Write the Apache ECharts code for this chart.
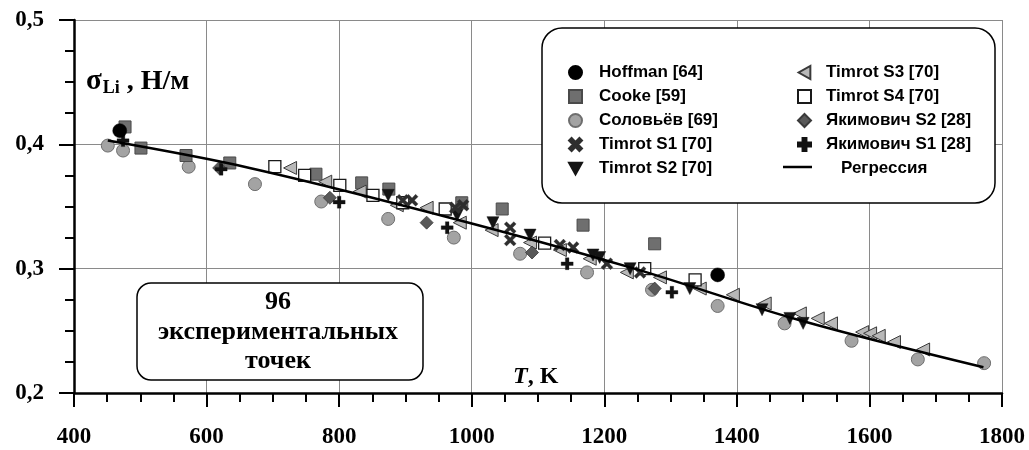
<!DOCTYPE html>
<html>
<head>
<meta charset="utf-8">
<script src="https://cdn.jsdelivr.net/npm/echarts@6/dist/echarts.min.js"></script>
<style>
  html, body { margin: 0; padding: 0; background: #ffffff; }
  #chart { width: 1029px; height: 450px; }
</style>
</head>
<body>
<div id="chart"></div>
<script>
// Surface tension of liquid lithium, σ (N/m) versus temperature T (K)
const xTicks = { min: 400, max: 1800, step: 200, minorSplit: 4 };
const yTicks = { min: 0.2, max: 0.5, step: 0.1, minorSplit: 4 };

const hoffman = [[469, 0.411], [1371, 0.295]];
const cooke = [[477, 0.414], [501, 0.397], [569, 0.391], [635, 0.385], [765, 0.376], [834, 0.369],
  [875, 0.364], [985, 0.353], [1046, 0.348], [1168, 0.335], [1276, 0.320]];
const soloviev = [[451, 0.399], [474, 0.395], [573, 0.382], [673, 0.368], [773, 0.354], [874, 0.340],
  [973, 0.325], [1073, 0.312], [1174, 0.297], [1272, 0.283], [1371, 0.270], [1472, 0.256],
  [1573, 0.242], [1673, 0.227], [1773, 0.224]];
const timrotS1 = [[896, 0.355], [910, 0.355], [975, 0.349], [987, 0.351], [1058, 0.333], [1058, 0.323],
  [1133, 0.319], [1153, 0.317], [1204, 0.304], [1254, 0.297]];
const timrotS2 = [[874, 0.359], [978, 0.343], [1032, 0.337], [1088, 0.327], [1183, 0.311], [1193, 0.309],
  [1239, 0.300], [1329, 0.284], [1438, 0.267], [1480, 0.260], [1500, 0.256]];
const timrotS3 = [[726, 0.381], [779, 0.370], [831, 0.362], [887, 0.351], [932, 0.349], [982, 0.337],
  [1030, 0.331], [1088, 0.321], [1133, 0.315], [1178, 0.308], [1234, 0.297], [1284, 0.293],
  [1344, 0.284], [1394, 0.279], [1442, 0.272], [1495, 0.264], [1522, 0.260], [1542, 0.256],
  [1589, 0.249], [1601, 0.248], [1614, 0.246], [1637, 0.241], [1681, 0.235]];
const timrotS4 = [[703, 0.382], [748, 0.375], [801, 0.367], [851, 0.359], [896, 0.353], [960, 0.348],
  [1110, 0.3205], [1261, 0.300], [1337, 0.291]];
const yakimovichS2 = [[619, 0.381], [786, 0.357], [932, 0.337], [1091, 0.313], [1276, 0.284]];
const yakimovichS1 = [[474, 0.403], [622, 0.380], [800, 0.3535], [963, 0.333], [1144, 0.304], [1302, 0.281]];
const regression = [[451, 0.403], [665, 0.381], [967, 0.341], [1239, 0.301], [1495, 0.2585], [1772, 0.2207]];

const SERIF = "'Liberation Serif','Times New Roman',serif";
const SANS = "'Liberation Sans',Arial,sans-serif";

// marker shapes
const SYM_X = 'path://M2,0L5,3L8,0L10,2L7,5L10,8L8,10L5,7L2,10L0,8L3,5L0,2Z';
const SYM_PLUS = 'path://M3.5,0H6.5V3.5H10V6.5H6.5V10H3.5V6.5H0V3.5H3.5Z';
const SYM_DOWN = 'path://M0,0H10L5,9Z';
const SYM_LEFT = 'path://M9,0V10L0,5Z';

function scatter(name, data, symbol, size, fill, stroke, bw) {
  return {
    name, type: 'scatter', data, symbol, symbolSize: size, z: 3,
    itemStyle: { color: fill, borderColor: stroke, borderWidth: bw, opacity: 1 },
    emphasis: { disabled: true }
  };
}

const series = [
  scatter('Соловьёв [69]', soloviev, 'circle', 13, '#a3a3a3', '#6e6e6e', 1),
  scatter('Cooke [59]', cooke, 'rect', 12, '#6f6f6f', '#4a4a4a', 1),
  scatter('Timrot S3 [70]', timrotS3, SYM_LEFT, 13, '#b8b8b8', '#3a3a3a', 1),
  scatter('Timrot S4 [70]', timrotS4, 'rect', 12, '#ffffff', '#1a1a1a', 1.3),
  scatter('Якимович S2 [28]', yakimovichS2, 'diamond', 13, '#595959', '#3a3a3a', 0.8),
  scatter('Timrot S2 [70]', timrotS2, SYM_DOWN, 12, '#141414', '#141414', 0.5),
  scatter('Timrot S1 [70]', timrotS1, SYM_X, 12, '#2e2e2e', '#2e2e2e', 0.3),
  scatter('Якимович S1 [28]', yakimovichS1, SYM_PLUS, 12, '#111111', '#111111', 0.3),
  scatter('Hoffman [64]', hoffman, 'circle', 14, '#000000', '#000000', 0.5),
  {
    name: 'Регрессия', type: 'line', data: regression, smooth: 0.35,
    symbol: 'none', showSymbol: false, z: 6,
    itemStyle: { color: '#000000' },
    lineStyle: { color: '#000000', width: 2.5 },
    emphasis: { disabled: true }
  }
];

const legendText = (pad) => ({
  fontFamily: SANS, fontWeight: 'bold', fontSize: 17, color: '#000',
  lineHeight: 17, padding: [0, 0, 0, pad]
});

function axis(t, tickLen, label) {
  return {
    type: 'value', min: t.min, max: t.max, interval: t.step,
    axisLine: { show: true, onZero: false, lineStyle: { color: '#000', width: 2.5 } },
    axisTick: { show: true, inside: false, length: tickLen, lineStyle: { color: '#000', width: 2 } },
    minorTick: { show: true, splitNumber: t.minorSplit, length: 9, lineStyle: { color: '#000', width: 2 } },
    splitLine: { show: true, lineStyle: { color: '#8a8a8a', width: 1 } },
    minorSplitLine: { show: false },
    axisLabel: label
  };
}

const chart = echarts.init(document.getElementById('chart'), null, { renderer: 'canvas' });

chart.setOption({
  animation: false,
  grid: { left: 74, right: 27, top: 20, bottom: 57 },
  xAxis: axis(xTicks, 14, {
    margin: 33, fontFamily: SERIF, fontWeight: 'bold', fontSize: 23, color: '#000',
    formatter: (v) => String(v)
  }),
  yAxis: axis(yTicks, 15, {
    margin: 30, fontFamily: SERIF, fontWeight: 'bold', fontSize: 23, color: '#000',
    formatter: (v) => v.toFixed(1).replace('.', ',')
  }),
  legend: [
    {
      orient: 'vertical', left: 563, top: 59, itemWidth: 13, itemHeight: 13, itemGap: 7,
      selectedMode: false, z: 20,
      data: ['Hoffman [64]', 'Cooke [59]', 'Соловьёв [69]', 'Timrot S1 [70]', 'Timrot S2 [70]'],
      textStyle: legendText(12)
    },
    {
      orient: 'vertical', left: 792, top: 59, itemWidth: 13, itemHeight: 13, itemGap: 7,
      selectedMode: false, z: 20,
      data: ['Timrot S3 [70]', 'Timrot S4 [70]', 'Якимович S2 [28]', 'Якимович S1 [28]'],
      textStyle: legendText(10)
    },
    {
      orient: 'vertical', left: 783, top: 155, itemWidth: 29, itemHeight: 13,
      selectedMode: false, z: 20,
      data: [{ name: 'Регрессия', itemStyle: { opacity: 0 }, lineStyle: { opacity: 0 } }],
      textStyle: legendText(18)
    }
  ],
  graphic: [
    // legend frame
    {
      type: 'rect', z: 1, silent: true,
      shape: { x: 542, y: 28, width: 453, height: 175, r: 20 },
      style: { fill: '#ffffff', stroke: '#000000', lineWidth: 1.5 }
    },
    // stroke sample for the regression entry
    {
      type: 'line', z: 25, silent: true,
      shape: { x1: 783, y1: 167, x2: 812, y2: 167 },
      style: { stroke: '#000000', lineWidth: 2.5 }
    },
    // annotation frame
    {
      type: 'rect', z: 1, silent: true,
      shape: { x: 137, y: 283, width: 286, height: 97, r: 14 },
      style: { fill: '#ffffff', stroke: '#000000', lineWidth: 1.5 }
    },
    {
      type: 'text', z: 2, silent: true, x: 278, y: 302,
      style: { text: '96', textAlign: 'center', textVerticalAlign: 'middle',
        font: 'bold 26px ' + SERIF, fill: '#000' }
    },
    {
      type: 'text', z: 2, silent: true, x: 278, y: 332,
      style: { text: 'экспериментальных', textAlign: 'center', textVerticalAlign: 'middle',
        font: 'bold 26px ' + SERIF, fill: '#000' }
    },
    {
      type: 'text', z: 2, silent: true, x: 278, y: 361,
      style: { text: 'точек', textAlign: 'center', textVerticalAlign: 'middle',
        font: 'bold 26px ' + SERIF, fill: '#000' }
    },
    // y-axis title
    {
      type: 'text', z: 2, silent: true, x: 86, y: 82,
      style: {
        text: '{s|σ}{sub|Li}{m| , Н/м}', textVerticalAlign: 'middle',
        rich: {
          s: { fontFamily: SERIF, fontSize: 29, fontWeight: 'bold', fill: '#000' },
          sub: { fontFamily: SERIF, fontSize: 18, fontWeight: 'bold', fill: '#000', padding: [13, 0, 0, 1] },
          m: { fontFamily: SERIF, fontSize: 28, fontWeight: 'bold', fill: '#000' }
        }
      }
    },
    // x-axis title
    {
      type: 'text', z: 2, silent: true, x: 513, y: 377,
      style: {
        text: '{t|T}{k|, K}', textVerticalAlign: 'middle',
        rich: {
          t: { fontFamily: SERIF, fontSize: 24, fontWeight: 'bold', fontStyle: 'italic', fill: '#000' },
          k: { fontFamily: SERIF, fontSize: 24, fontWeight: 'bold', fill: '#000' }
        }
      }
    }
  ],
  series
});
</script>
</body>
</html>
